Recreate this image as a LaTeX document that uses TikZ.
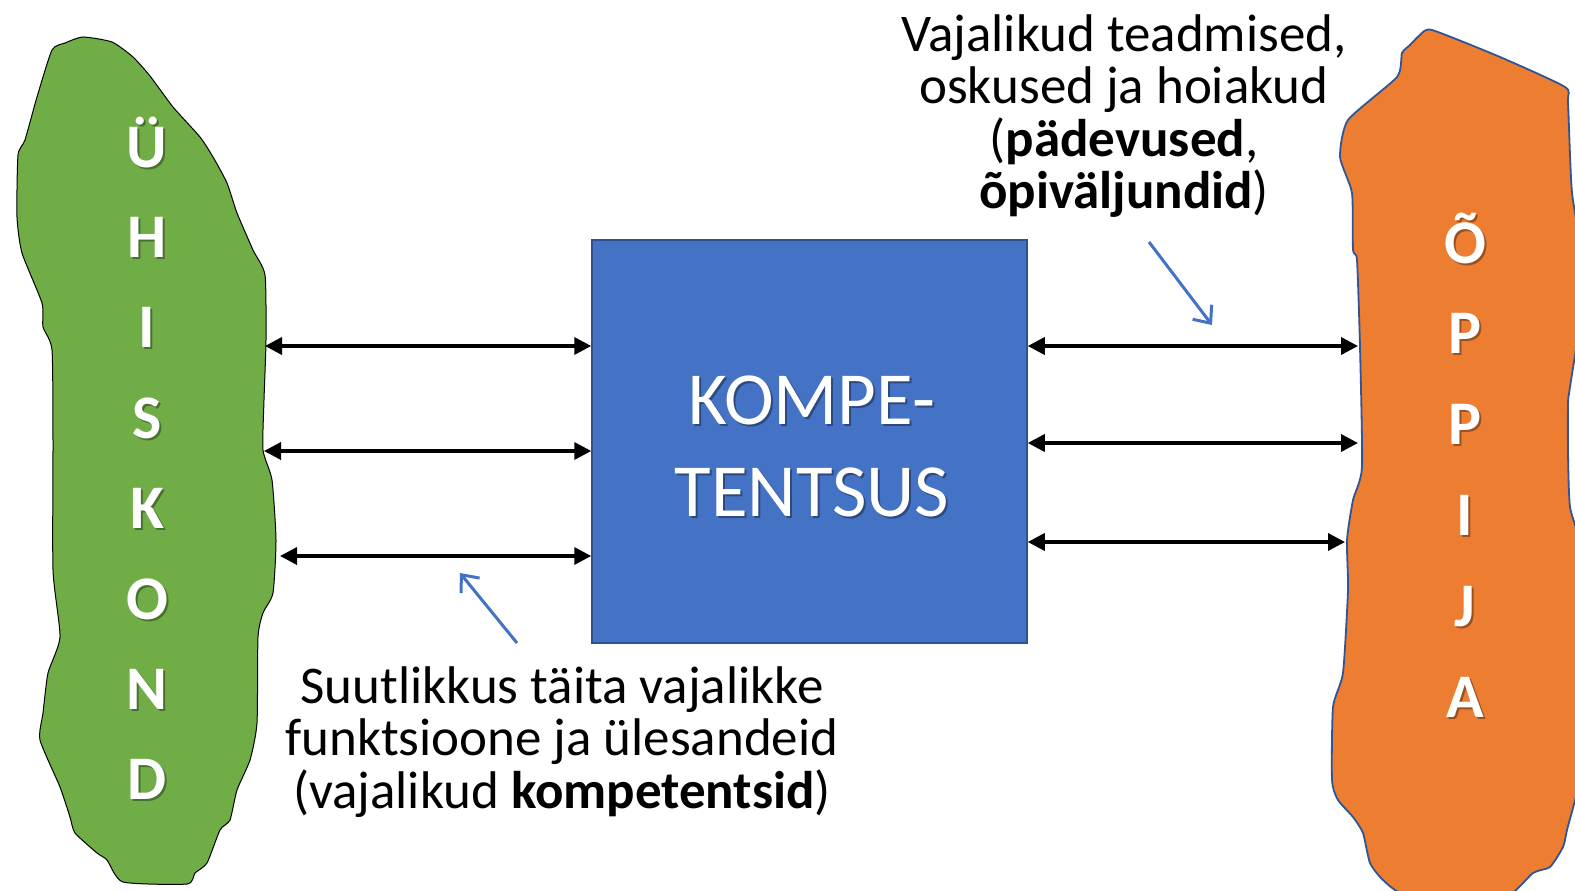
\documentclass[tikz,border=0pt]{standalone}
\usepackage{fontspec}
\setmainfont{Carlito}
\usetikzlibrary{arrows.meta,positioning,calc}
\definecolor{grassgreen}{HTML}{70AD47}
\definecolor{learnorange}{HTML}{ED7D31}
\definecolor{boxblue}{HTML}{4472C4}
\definecolor{boxedge}{HTML}{2F528F}
\definecolor{blobedge}{HTML}{2F5597}
\tikzset{
	society/.style={
		fill=grassgreen,
		draw=black,
		line width=1pt,
	},
	learner/.style={
		fill=learnorange,
		draw=blobedge,
		line width=1.8pt,
	},
	kbox/.style={
		rectangle,
		fill=boxblue,
		draw=boxedge,
		line width=1.5pt,
		minimum width=435pt,
		minimum height=403pt,
	},
	twoway/.style={
		{Triangle[length=17pt,width=17pt]}-{Triangle[length=17pt,width=17pt]},
		line width=3.5pt,
	},
	pointer/.style={
		-{Straight Barb[length=14pt,width=24pt]},
		draw=boxblue,
		line width=3pt,
	},
	letter/.style={
		inner sep=0pt,
		anchor=base,
		text=white,
		font=\fontsize{62}{62}\selectfont\bfseries,
	},
	ktext/.style={
		inner sep=0pt,
		align=center,
		text=white,
		font=\fontsize{75}{92}\selectfont,
	},
	note/.style={
		inner sep=0pt,
		align=center,
		font=\fontsize{53}{52.5}\selectfont,
	},
}
% white text with a soft shadow: name, position, style, text
\newcommand\dropshadowtext[4]{%
	\node[#3, text=black, opacity=0.35, xshift=2pt, yshift=-2pt] (#1-sh) at #2 {#4};
	\node[#3] (#1) at #2 {#4};}

\begin{document}
\begin{tikzpicture}[x=1pt,y=-1pt]
		\clip (0,0) rectangle (1575,891);
		\fill[white] (0,0) rectangle (1575,891);

		% society
		\path[society] plot[smooth cycle, tension=0.35] coordinates {
			(83,37) (112,42) (133,57) (150,76) (173,107) (200,137) (213,157)
			(227,183) (237,213) (253,250) (265,275) (266,340) (264,400) (263,450)
			(272,480) (276,540) (273,593) (263,613) (258,637) (257,723) (250,760)
			(237,790) (230,820) (220,830) (207,863) (195,873) (187,884) (123,882)
			(107,860) (97,853) (75,833) (70,817) (60,787) (40,740) (43,713)
			(48,673) (60,637) (53,570) (53,440) (52,350) (43,327) (42,303)
			(22,253) (17,217) (18,155) (25,140) (37,97) (52,50) (65,43)};

		% learner
		\path[learner] plot[smooth cycle, tension=0.35] coordinates {
			(1432,30) (1500,57) (1565,87) (1568,103) (1572,193) (1585,280)
			(1570,387) (1568,403) (1568,453) (1570,507) (1582,560) (1582,760)
			(1567,830) (1563,847) (1550,867) (1533,873) (1500,900) (1407,895)
			(1383,880) (1370,863) (1363,833) (1353,817) (1338,800) (1332,780)
			(1333,707) (1343,673) (1348,590) (1347,540) (1353,500) (1362,467)
			(1360,347) (1357,260) (1353,250) (1352,193) (1340,157) (1348,120)
			(1397,77) (1402,53) (1410,45) (1420,35)};

		\foreach \ch [count=\i] in {Ü,H,I,S,K,O,N,D}
			\dropshadowtext{soc\i}{(147,{167+90.4*(\i-1)})}{letter}{\ch};
		\foreach \ch [count=\i] in {Õ,P,P,I,J,A}
			\dropshadowtext{lrn\i}{(1465,{263+90.8*(\i-1)})}{letter}{\ch};

		\node[kbox] (komp) at (809.5,441.5) {};
		\dropshadowtext{kname}{(812,446)}{ktext}{KOMPE-\\TENTSUS};

		\coordinate (soc-a) at (265,346);
		\coordinate (soc-b) at (264,451);
		\coordinate (soc-c) at (280,556);
		\coordinate (lrn-a) at (1358,346);
		\coordinate (lrn-b) at (1358,443);
		\coordinate (lrn-c) at (1345,542);
		\draw[twoway] (soc-a) -- (soc-a -| komp.west);
		\draw[twoway] (soc-b) -- (soc-b -| komp.west);
		\draw[twoway] (soc-c) -- (soc-c -| komp.west);
		\draw[twoway] (komp.east |- lrn-a) -- (lrn-a);
		\draw[twoway] (komp.east |- lrn-b) -- (lrn-b);
		\draw[twoway] (komp.east |- lrn-c) -- (lrn-c);

		\node[note] (knowhow) at (1124,116) {Vajalikud teadmised,\\oskused ja hoiakud\\(\textbf{pädevused},\\\textbf{õpiväljundid})};
		\node[note] (ability) at (562,742) {Suutlikkus täita vajalikke\\funktsioone ja ülesandeid\\(vajalikud \textbf{kompetentsid})};

		\coordinate (knowhow-tip) at (1149,242);
		\coordinate (knowhow-end) at (1212,325);
		\coordinate (ability-tip) at (517,643);
		\coordinate (ability-end) at (460,573);
		\draw[pointer] (knowhow-tip) -- (knowhow-end);
		\draw[pointer] (ability-tip) -- (ability-end);
	\end{tikzpicture}
\end{document}
